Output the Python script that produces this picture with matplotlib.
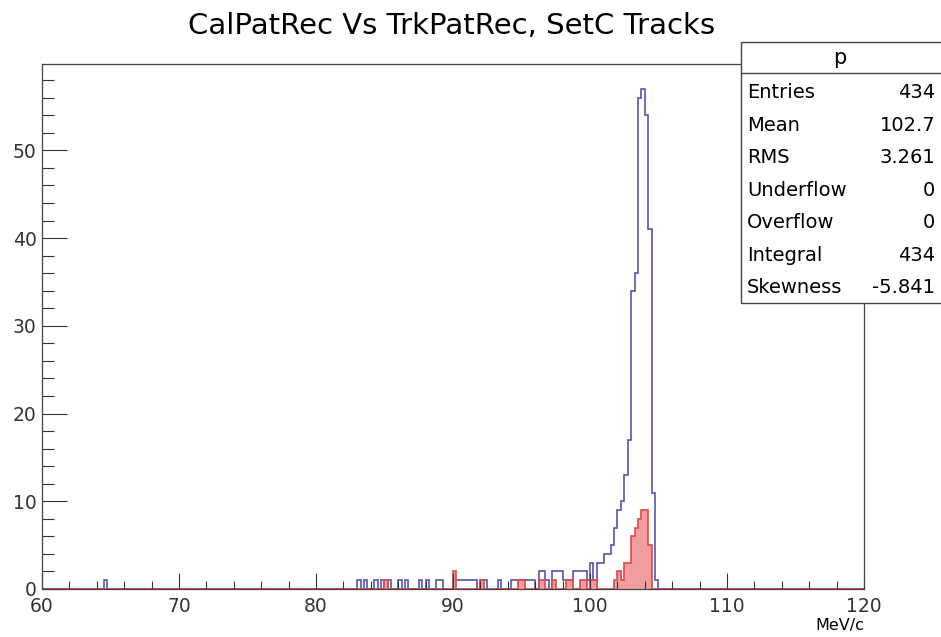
import numpy as np
import matplotlib
matplotlib.use('Agg')
import matplotlib.pyplot as plt
from matplotlib.patches import Rectangle
from matplotlib.ticker import MultipleLocator

plt.rcParams['font.family'] = ['DejaVu Sans']

# histogram binning: 240 bins of 0.25 MeV/c from 60 to 120
edges = np.linspace(60, 120, 241)

# blue histogram (CalPatRec) : bin low edge -> counts
blue_bins = [64.5, 83.0, 83.5, 84.25, 84.75, 85.25, 86.0, 86.5, 87.5, 88.0,
             88.75, 89.0, 90.0, 90.25, 90.5, 90.75, 91.0, 91.25, 91.5, 92.0,
             92.25, 93.25, 94.25, 94.5, 94.75, 95.0, 95.25, 95.5, 95.75, 96.25,
             96.5, 96.75, 97.25, 97.5, 97.75, 98.0, 98.25, 98.5, 98.75, 99.0,
             99.25, 99.5, 99.75, 100.0, 100.25, 100.5, 100.75, 101.0, 101.25, 101.5,
             101.75, 102.0, 102.25, 102.5, 102.75, 103.0, 103.25, 103.5, 103.75, 104.0,
             104.25, 104.5, 104.75]
blue_counts = [1, 1, 1, 1, 1, 1, 1, 1, 1, 1,
               1, 1, 1, 1, 1, 1, 1, 1, 1, 1,
               1, 1, 1, 1, 1, 1, 1, 1, 1, 2,
               2, 1, 2, 2, 2, 1, 1, 1, 2, 2,
               2, 2, 1, 3, 1, 3, 3, 4, 4, 5,
               7, 9, 10, 13, 17, 34, 36, 56, 57, 54,
               41, 11, 1]

# red histogram (TrkPatRec)
red_bins = [85.0, 90.0, 92.0, 94.75, 95.0, 96.25, 96.5, 97.25, 98.25, 98.5,
            99.25, 99.5, 100.0, 100.25, 101.75, 102.0, 102.25, 102.5, 102.75, 103.0,
            103.25, 103.5, 103.75, 104.0, 104.25]
red_counts = [1, 2, 1, 1, 1, 1, 1, 1, 1, 1,
              1, 1, 1, 1, 1, 2, 1, 3, 3, 6,
              7, 8, 9, 9, 5]

stat_names = ['Entries', 'Mean', 'RMS', 'Underflow', 'Overflow', 'Integral', 'Skewness']
stat_values = ['434', '102.7', '3.261', '0', '0', '434', '-5.841']


def fill_hist(bins, counts):
    h = np.zeros(len(edges) - 1)
    idx = np.round((np.array(bins) - 60) / 0.25).astype(int)
    h[idx] = counts
    return h

blue = fill_hist(blue_bins, blue_counts)
red = fill_hist(red_bins, red_counts)

W, H = 941, 637
fig = plt.figure(figsize=(W / 100, H / 100), dpi=100)
ax = fig.add_axes([42 / W, 1 - 589 / H, (864 - 42) / W, (589 - 64) / H])

ax.stairs(blue, edges, color='#5555b8', lw=1.2, baseline=0)
ax.stairs(red, edges, fill=True, color='#f29494', alpha=0.9, baseline=0)
ax.stairs(red, edges, color='#e0474c', lw=1.2, baseline=0)

ax.set_xlim(60, 120)
ax.set_ylim(0, 59.85)
ax.xaxis.set_major_locator(MultipleLocator(10))
ax.xaxis.set_minor_locator(MultipleLocator(2))
ax.yaxis.set_major_locator(MultipleLocator(10))
ax.yaxis.set_minor_locator(MultipleLocator(2))
ax.tick_params(axis='x', which='major', direction='in', length=11.3, width=0.8,
               labelsize=13.5, pad=6, colors='#333333')
ax.tick_params(axis='x', which='minor', direction='in', length=5.6, width=0.8, colors='#333333')
ax.tick_params(axis='y', which='major', direction='in', length=17.8, width=0.8,
               labelsize=13.5, pad=4, colors='#333333')
ax.tick_params(axis='y', which='minor', direction='in', length=8.9, width=0.8, colors='#333333')
for s in ax.spines.values():
    s.set_color('#444444')
    s.set_linewidth(0.9)

ax.set_xlabel('MeV/c', fontsize=11.5, loc='right', labelpad=1)
fig.suptitle('CalPatRec Vs TrkPatRec, SetC Tracks', fontsize=21, x=452 / W, y=1 - 26 / H, va='center')

# stats box
bx0, by_top, by_bot, by_head = 741 / W, 1 - 42 / H, 1 - 303 / H, 1 - 73 / H
fig.patches.append(Rectangle((bx0, by_bot), 1.1 - bx0, by_top - by_bot, transform=fig.transFigure,
                             facecolor='white', edgecolor='#444444', lw=1, zorder=5))
fig.add_artist(plt.Line2D([bx0, 1.0], [by_head, by_head], transform=fig.transFigure, color='#444444', lw=1, zorder=6))
fig.text(840 / W, 1 - 58 / H, 'p', fontsize=15, ha='center', va='center', zorder=7)
for i, (n, v) in enumerate(zip(stat_names, stat_values)):
    yy = 1 - (93 + i * 32.4) / H
    fig.text(747 / W, yy, n, fontsize=14, ha='left', va='center', zorder=7)
    fig.text(935 / W, yy, v, fontsize=14, ha='right', va='center', zorder=7)

fig.savefig('out.png', dpi=100)
